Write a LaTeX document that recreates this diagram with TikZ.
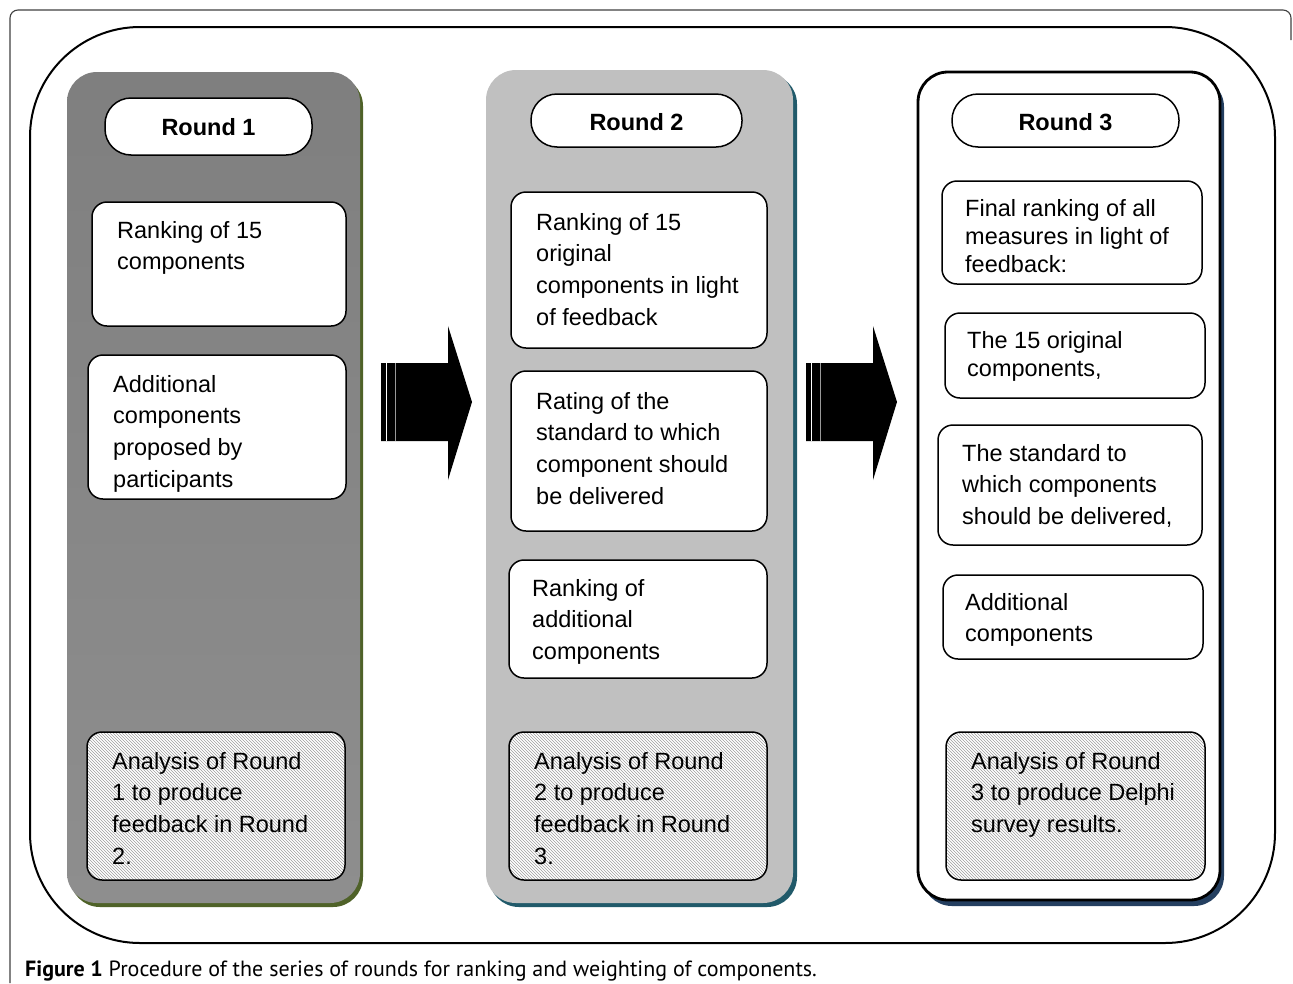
\documentclass[tikz,border=0pt]{standalone}
\usepackage{fontspec}
\setmainfont{Liberation Sans}
\newfontfamily\capfont{PT Sans}
\usetikzlibrary{patterns}
\definecolor{shgreen}{HTML}{4F6228}
\definecolor{shteal}{HTML}{215A6A}
\definecolor{shnavy}{HTML}{243F60}
\definecolor{panelA}{HTML}{7F7F7F}
\definecolor{panelAb}{HTML}{8E8E8E}
\definecolor{panelB}{HTML}{C0C0C0}
\tikzset{
  box/.style={draw=black, line width=1.5pt, fill=white, rounded corners=15pt},
  hatchbox/.style={draw=black, line width=1.5pt, rounded corners=15pt},
  hatchfill/.style={pattern=north west lines, pattern color=black!38, rounded corners=15pt},
  pill/.style={draw=black, line width=1.5pt, fill=white, rounded corners=26pt},
  txt/.style={anchor=north west, inner sep=0pt, align=left, font=\fontsize{23.5}{31.7}\selectfont},
  txtt/.style={anchor=north west, inner sep=0pt, align=left, font=\fontsize{23.5}{28}\selectfont},
  ttl/.style={inner sep=0pt, font=\fontsize{23.5}{28}\selectfont\bfseries},
  bigarrow/.style={fill=black, draw=none},
}
\begin{document}
\begin{tikzpicture}[x=1pt,y=-1pt]
\useasboundingbox (0,0) rectangle (1293,983);
% figure frame
\draw[line width=1.1pt, black!75] (10,983) -- (10,18) arc[start angle=180,end angle=270,radius=8] -- (1283,10) arc[start angle=-90,end angle=0,radius=8] -- (1291,40);
% outer rounded rectangle
\draw[line width=2pt, rounded corners=110pt] (30,27) rectangle (1275,943);

% ---------- Panel 1 ----------
\fill[shgreen, rounded corners=30pt] (70,76) rectangle (363,907);
\shade[top color=panelA, bottom color=panelAb, rounded corners=30pt] (67,72) rectangle (360,903);
% ---------- Panel 2 ----------
\fill[shteal, rounded corners=30pt] (489,74) rectangle (797,907);
\fill[panelB, rounded corners=30pt] (486,70) rectangle (793,903);
% ---------- Panel 3 ----------
\fill[shnavy, rounded corners=30pt] (922,77) rectangle (1224,906);
\draw[line width=2.8pt, fill=white, rounded corners=30pt] (918,72) rectangle (1220,900);

% Round pills
\draw[pill] (105,98) rectangle (312,155);
\node[ttl] (r1) at (208.5,127) {Round 1};
\draw[pill] (531,94) rectangle (742,147);
\node[ttl] (r2) at (636.5,122) {Round 2};
\draw[pill] (952,94) rectangle (1179,147);
\node[ttl] (r3) at (1065.5,122) {Round 3};

% Panel 1 boxes
\draw[box] (92,202) rectangle (346,326);
\node[txt] (a1) at (117,221) {Ranking of 15\\components};
\draw[box] (88,355) rectangle (346,499);
\node[txt] (a2) at (113,375) {Additional\\components\\proposed by\\participants};
\fill[white, rounded corners=15pt] (87,732) rectangle (345,880);
\fill[hatchfill] (87,732) rectangle (345,880);
\draw[hatchbox] (87,732) rectangle (345,880);
\node[txt] (a3) at (112,752) {Analysis of Round\\1 to produce\\feedback in Round\\2.};

% Panel 2 boxes
\draw[box] (511,192) rectangle (767,348);
\node[txt] (b1) at (536,213) {Ranking of 15\\original\\components in light\\of feedback};
\draw[box] (511,371) rectangle (767,531);
\node[txt] (b2) at (536,392) {Rating of the\\standard to which\\component should\\be delivered};
\draw[box] (509,560) rectangle (767,678);
\node[txt] (b3) at (532,579) {Ranking of\\additional\\components};
\fill[white, rounded corners=15pt] (509,732) rectangle (767,880);
\fill[hatchfill] (509,732) rectangle (767,880);
\draw[hatchbox] (509,732) rectangle (767,880);
\node[txt] (b4) at (534,752) {Analysis of Round\\2 to produce\\feedback in Round\\3.};

% Panel 3 boxes
\draw[box] (942,181) rectangle (1202,284);
\node[txtt] (c1) at (965,199) {Final ranking of all\\measures in light of\\feedback:};
\draw[box] (945,313) rectangle (1205,398);
\node[txtt] (c2) at (967,331) {The 15 original\\components,};
\draw[box] (938,425) rectangle (1202,545);
\node[txt] (c3) at (962,444) {The standard to\\which components\\should be delivered,};
\draw[box] (943,575) rectangle (1203,659);
\node[txt] (c4) at (965,593) {Additional\\components};
\fill[white, rounded corners=15pt] (946,732) rectangle (1205,880);
\fill[hatchfill] (946,732) rectangle (1205,880);
\draw[hatchbox] (946,732) rectangle (1205,880);
\node[txt] (c5) at (971,752) {Analysis of Round\\3 to produce Delphi\\survey results.};

% Arrows
\foreach \dx/\nm in {0/arrA,425/arrB}{
  \begin{scope}[xshift=\dx pt]
    \fill[bigarrow] (381,363) -- (448,363) -- (448,326) -- (472,402) -- (448,480) -- (448,441) -- (381,441) -- cycle;
    \draw[white, line width=1pt] (386.5,363) -- (386.5,441);
    \draw[white!60!black, line width=0.8pt] (395,363) -- (395,441);
    \coordinate (\nm) at (426,402);
  \end{scope}
}

% Caption
\node[anchor=base west, inner sep=0pt, font=\capfont\fontsize{22}{26}\selectfont] (cap) at (25,976) {\textbf{Figure 1} Procedure of the series of rounds for ranking and weighting of components.};
\end{tikzpicture}
\end{document}
